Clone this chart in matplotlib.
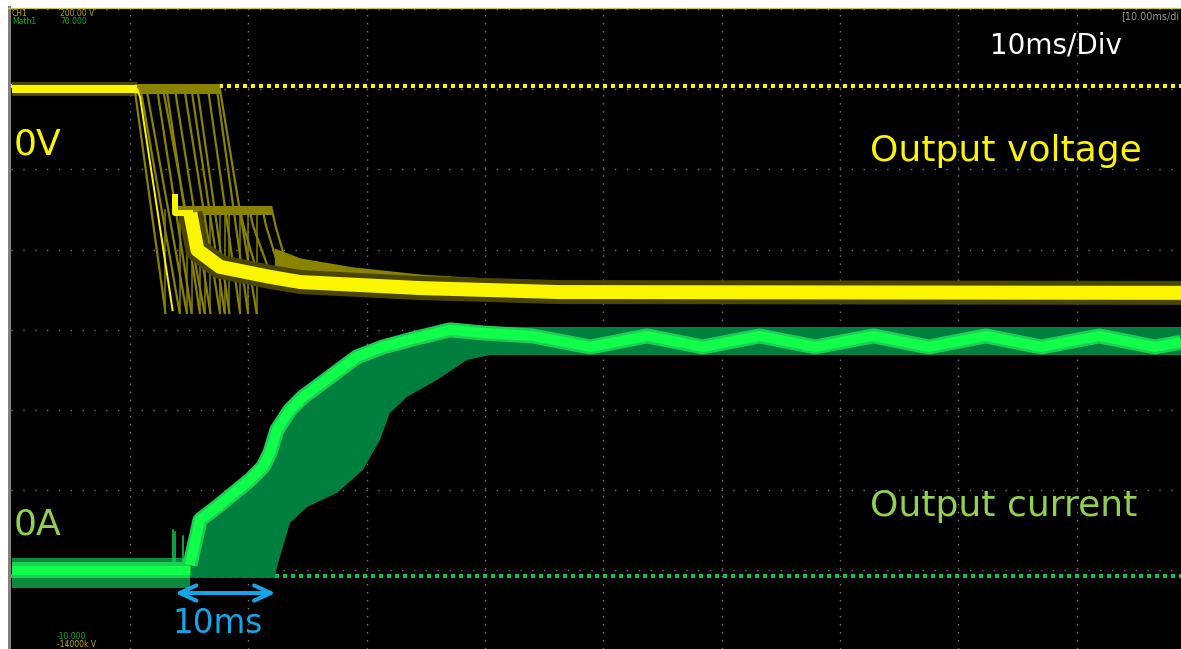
import numpy as np
import matplotlib.pyplot as plt
from matplotlib.lines import Line2D

# scope settings: CH1 = output voltage, Math1 = output current
TIME_DIV = 10.0     # ms/div
VOLT_DIV = 200.0    # V/div
CURR_DIV = 70.0     # A/div
V_ZERO = 7.04       # 0 V marker, div
I_ZERO = 0.93       # 0 A marker, div
T_LEFT, T_RIGHT = -0.05, 98.8

# output voltage, last sweep (ms, V)
v_flat_t = [0.0, 10.6]
v_flat = [-8, -8]
v_fall_t = [10.6, 10.85, 13.6]
v_fall = [-8, -27, -559]
v_hold_t = [13.8, 13.8, 15.1]
v_hold = [-277, -317, -317]
v_decay_t = [15.1, 15.7, 17.6, 21.8, 24.4, 34.5, 46.3, 98.8]
v_decay = [-317, -409, -451, -476, -489, -504, -514, -516]

# output voltage, earlier sweeps kept on screen
v_top_t = [10.4, 17.6]
v_edge_t0 = [10.4, 10.9, 11.4, 12.3, 12.8, 13.1, 13.8, 14.6, 15.2, 15.7, 16.6, 17.35, 17.6]
v_edge_t1 = [13.0, 14.2, 14.8, 15.2, 16.3, 15.9, 16.8, 17.6, 18.0, 18.4, 19.3, 19.97, 20.7]
v_edge_bottom = -566
v_plateau_t = [13.8, 22.0]
v_plateau = -309
v_drop_t0 = [19.3, 20.1, 21.2, 22.0]
v_drop_t1 = [20.5, 21.6, 22.6, 23.3]
v_drop_low = [-440, -447, -455, -452]
v_env_t = [22.2, 24.4, 28.8, 34.5, 41.3, 46.3, 51.4]
v_env_hi = [-404, -429, -451, -469, -481, -491, -496]
v_env_lo = [-477, -489, -496, -504, -511, -514, -515]

# output current, last sweep (ms, A)
i_base_t = [0.0, 15.07]
i_base = [5.2, 5.2]
i_base_fuzz = [-10.5, 15.7]
i_spike_t = [13.6, 13.8, 14.5]
i_spike = [40, 38, 35]
i_sweep_t = [15.07, 15.92, 17.35, 20.14, 21.24, 21.83, 22.42, 23.52, 24.62,
             26.9, 29.18, 31.38, 34.25, 37.03, 39.82,
             44.0, 48.9, 53.7, 58.4, 63.2, 67.9, 72.8, 77.5, 82.3, 87.0,
             91.9, 96.6, 98.8]
i_sweep = [9.6, 48.9, 60.2, 83.8, 95.2, 107.4, 127.5, 144.9, 156.3,
           173.7, 191.2, 199.9, 207.8, 214.8, 212.1,
           209.5, 199.9, 209.5, 199.9, 209.5, 199.9, 209.5, 199.9, 209.5, 199.9,
           209.5, 199.9, 204.0]
n_rise = 15

# output current, lower edge of earlier sweeps
i_env_t = [14.65, 22.25, 22.42, 23.52, 24.95, 27.49, 29.68, 31.12, 31.96,
           33.4, 35.94, 38.47, 41.26]
i_env_lo = [-1.7, -1.7, 7.9, 46.3, 60.2, 72.5, 92.5, 118.7, 142.3,
            156.3, 171.1, 188.6, 194.7]
i_band_t = [37.0, 98.8]
i_band = [193, 217]

YEL = '#fbf500'
OLIVE = '#8a8300'
OLIVE_DARK = '#4a4600'
GRN = '#10ff4a'
GRN_HALO = '#1dcf55'
GRN_DARK = '#007f3f'
BLUE = '#14a6e6'


def vdiv(v):
    return V_ZERO + np.asarray(v, float) / VOLT_DIV


def idiv(i):
    return I_ZERO + np.asarray(i, float) / CURR_DIV


def px(n):
    return n * 0.72


fig = plt.figure(figsize=(11.81, 6.49), dpi=100, facecolor='white')
ax = fig.add_axes([11 / 1181, 0, 1170 / 1181, 640 / 649])
ax.set_facecolor('black')
ax.set_xlim(T_LEFT, T_RIGHT)
ax.set_ylim(8 - 640 / 80.19, 8)
ax.set_xticks([])
ax.set_yticks([])
for s in ax.spines.values():
    s.set_visible(False)

# frame edges of the scope screen
fig.add_artist(Line2D([9.5 / 1181] * 2, [0, 1 - 7 / 649], color='#808080', lw=px(3)))
fig.add_artist(Line2D([8 / 1181, 1], [1 - 7.8 / 649] * 2, color='#c8c058', lw=px(1.3)))

# graticule dots
for k in range(9):
    ax.axhline(k, color='#7a7a7a', lw=1.0, ls=(0, (1, 7.52)), zorder=1)
for k in range(1, 10):
    ax.axvline(k * TIME_DIV, color='#7a7a7a', lw=1.0, ls=(0, (1, 4.77)), zorder=1)

# zero markers
ax.axhline(V_ZERO, color=YEL, lw=px(4), ls=(0, (1, 1)), zorder=2)
ax.axhline(I_ZERO, color='#19b954', lw=px(4), ls=(0, (1, 1)), zorder=2)

# ---- voltage: persistence of earlier sweeps
ax.plot(v_flat_t, vdiv(v_flat), color=OLIVE_DARK, lw=px(14), solid_capstyle='butt', zorder=3)
ax.plot(v_top_t, vdiv([-8, -8]), color=OLIVE, lw=px(10), solid_capstyle='butt', zorder=3)
for t0, t1 in zip(v_edge_t0, v_edge_t1):
    ax.plot([t0, t1], vdiv([-8, v_edge_bottom]), color=OLIVE, lw=px(2.2), zorder=3)
    ax.plot([t1, t1], vdiv([v_edge_bottom, v_plateau]), color=OLIVE, lw=px(1.5), zorder=3)
ax.plot(v_plateau_t, vdiv([v_plateau] * 2), color=OLIVE, lw=px(9), solid_capstyle='butt', zorder=3)
for t0, t1, lo in zip(v_drop_t0, v_drop_t1, v_drop_low):
    ax.plot([t0, t0 + 0.3, t1], vdiv([v_plateau, v_plateau - 40, lo]), color=OLIVE, lw=px(2.2), zorder=3)
ax.fill_between(v_env_t, vdiv(v_env_lo), vdiv(v_env_hi), color=OLIVE, lw=0, zorder=3)
ax.plot(v_decay_t, vdiv(v_decay), color=OLIVE_DARK, lw=px(24), solid_capstyle='butt', zorder=3)

# ---- voltage: last sweep
ax.plot(v_flat_t, vdiv(v_flat), color=YEL, lw=px(8), solid_capstyle='butt', zorder=5)
ax.plot(v_fall_t, vdiv(v_fall), color=YEL, lw=px(2), zorder=5)
ax.plot(v_hold_t, vdiv(v_hold), color=YEL, lw=px(6), zorder=5)
ax.plot(v_decay_t, vdiv(v_decay), color=YEL, lw=px(14), solid_capstyle='butt', zorder=5)

# ---- current: persistence of earlier sweeps
ax.fill_between(i_base_t, idiv([i_base_fuzz[0]] * 2), idiv([i_base_fuzz[1]] * 2),
                color='#0a8a3a', lw=0, zorder=3)
ax.fill_between(i_band_t, idiv([i_band[0]] * 2), idiv([i_band[1]] * 2),
                color=GRN_DARK, lw=0, zorder=3)
poly_t = [i_env_t[0]] + i_sweep_t[:n_rise] + i_env_t[::-1]
poly_i = [i_env_lo[0]] + i_sweep[:n_rise] + i_env_lo[::-1]
ax.fill(poly_t, idiv(poly_i), color=GRN_DARK, lw=0, zorder=3)

# ---- current: last sweep
for t, top in zip(i_spike_t, i_spike):
    ax.plot([t, t], idiv([5, top]), color=GRN_HALO, lw=px(1.5), zorder=4)
ax.plot(i_base_t, idiv(i_base), color=GRN_HALO, lw=px(16), solid_capstyle='butt', zorder=4)
ax.plot(i_sweep_t, idiv(i_sweep), color=GRN_HALO, lw=px(15), solid_capstyle='butt', zorder=4)
ax.plot(i_base_t, idiv(i_base), color=GRN, lw=px(9), solid_capstyle='butt', zorder=5)
ax.plot(i_sweep_t, idiv(i_sweep), color=GRN, lw=px(10), solid_capstyle='butt', zorder=5)

# ---- labels
ax.text(0.2, 6.18, '0V', color=YEL, fontsize=26, va='baseline', zorder=8)
ax.text(72.5, 6.105, 'Output voltage', color=YEL, fontsize=26, va='baseline', zorder=8)
ax.text(0.2, 1.453, '0A', color='#92d050', fontsize=26, va='baseline', zorder=8)
ax.text(72.5, 1.678, 'Output current', color='#92d050', fontsize=26, va='baseline', zorder=8)
ax.text(82.65, 7.451, '10ms/Div', color='white', fontsize=20, va='baseline', zorder=8)
ax.text(13.6, 0.219, '10ms', color=BLUE, fontsize=23.5, va='baseline', zorder=8)
ax.annotate('', xy=(22.3, 0.717), xytext=(13.8, 0.717),
            arrowprops=dict(arrowstyle='<->,head_length=1.2,head_width=0.55',
                            color=BLUE, lw=px(4), shrinkA=0, shrinkB=0, mutation_scale=10),
            zorder=8)

# scope readouts
small = dict(fontsize=5.5, va='top', zorder=8)
fig.text(12 / 1181, 1 - 9 / 649, 'CH1', color='#c8b400', **small)
fig.text(60 / 1181, 1 - 9 / 649, '200.00 V', color='#b8a800', **small)
fig.text(12 / 1181, 1 - 17 / 649, 'Math1', color='#00c030', **small)
fig.text(60 / 1181, 1 - 17 / 649, '70.000', color='#00b030', **small)
fig.text(57 / 1181, 1 - 632 / 649, '-10.000', color='#00b030', **small)
fig.text(57 / 1181, 1 - 640 / 649, '-14000k V', color='#c0b000', **small)
fig.text(1179 / 1181, 1 - 11 / 649, '[10.00ms/di', color='#9a9a9a', fontsize=7, va='top', ha='right')

fig.savefig('out.png', dpi=100, facecolor='white')
